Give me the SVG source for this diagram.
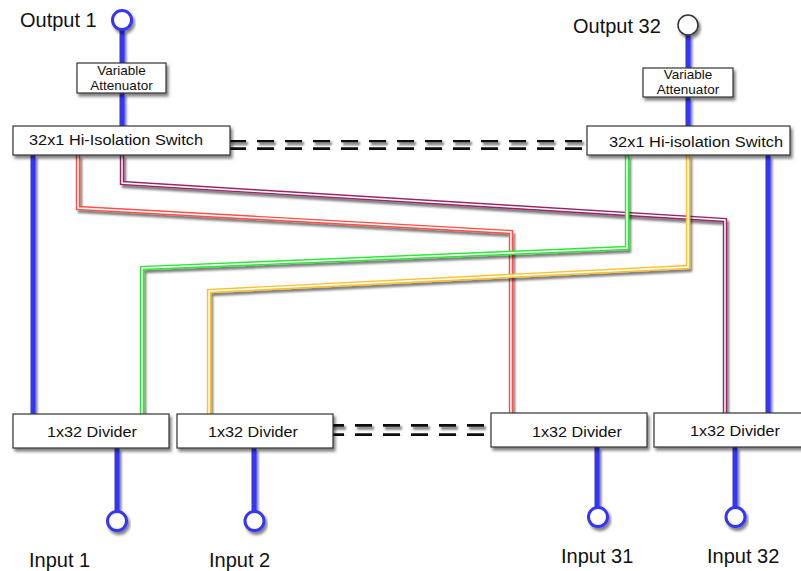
<svg xmlns="http://www.w3.org/2000/svg" width="801" height="571" viewBox="0 0 801 571">
<defs>
<filter id="sh" x="-20%" y="-20%" width="140%" height="160%">
<feDropShadow dx="2" dy="3" stdDeviation="1.5" flood-color="#000" flood-opacity="0.5"/>
</filter>
<filter id="shl" x="-5%" y="-5%" width="110%" height="110%">
<feDropShadow dx="2" dy="3" stdDeviation="1.2" flood-color="#000" flood-opacity="0.5"/>
</filter>
</defs>
<style>
text{font-family:"Liberation Sans",Arial,Helvetica,sans-serif;fill:#111}
.big{font-size:20px}
.sw{font-size:15.5px}
.att{font-size:13.5px;text-anchor:middle}
.div{font-size:15.5px;text-anchor:middle}
.box{fill:#fff;stroke:#333;stroke-width:1.2}
.blue{stroke:#3535f5;stroke-width:5;fill:none}
.port{fill:#fff;stroke:#3535f5;stroke-width:3}
.portk{fill:#fff;stroke:#333;stroke-width:1.5}
.wo{fill:none;stroke-width:4.4;stroke-linejoin:miter}
.wi{fill:none;stroke:#fff;stroke-width:1.5;stroke-linejoin:miter}
.dash{stroke:#111;stroke-width:3.5;stroke-dasharray:17 11;fill:none}
</style>

<g id="connectors">
<g filter="url(#shl)">
<path class="blue" d="M122 30V63M122 93V126"/>
<path class="blue" d="M688 35V68M688 97V126"/>
<path class="blue" d="M33 155V414"/>
<path class="blue" d="M768 155V413"/>
<path class="blue" d="M117 448V511"/>
<path class="blue" d="M254 448V511"/>
<path class="blue" d="M597 447V507"/>
<path class="blue" d="M735 447V507"/>
</g>
<g id="wire-red" filter="url(#shl)">
<path class="wo" stroke="#ff5048" d="M78 155V208L511 232V413"/>
<path class="wi" d="M78 155V208L511 232V413"/>
</g>
<g id="wire-purple" filter="url(#shl)">
<path class="wo" stroke="#982866" d="M122 155V183L725 220V413"/>
<path class="wi" d="M122 155V183L725 220V413"/>
</g>
<g id="wire-green" filter="url(#shl)">
<path class="wo" stroke="#2ee836" d="M627 155V248L142 268V414"/>
<path class="wi" d="M627 155V248L142 268V414"/>
</g>
<g id="wire-orange" filter="url(#shl)">
<path class="wo" stroke="#ffc02c" d="M688 155V267L209 291V414"/>
<path class="wi" d="M688 155V267L209 291V414"/>
</g>
<g id="ellipsis-top" filter="url(#shl)">
<path class="dash" d="M229 140.5H584M229 149H584"/>
</g>
<g id="ellipsis-bottom" filter="url(#shl)">
<path class="dash" d="M327 425H490M327 435H490"/>
</g>
</g>

<g id="output1">
<circle class="port" cx="122" cy="20" r="9.5" filter="url(#sh)"/>
<text class="big" x="20" y="27">Output 1</text>
</g>
<g id="output32">
<circle class="portk" cx="688" cy="25" r="10" filter="url(#sh)"/>
<text class="big" x="573" y="33">Output 32</text>
</g>

<g id="attenuator1">
<rect class="box" x="77" y="63" width="89" height="30" filter="url(#sh)"/>
<text class="att" x="121.5" y="74.5">Variable</text>
<text class="att" x="121.5" y="90">Attenuator</text>
</g>
<g id="attenuator32">
<rect class="box" x="643" y="68" width="90" height="29" filter="url(#sh)"/>
<text class="att" x="688" y="79">Variable</text>
<text class="att" x="688" y="94">Attenuator</text>
</g>

<g id="switch1">
<rect class="box" x="13" y="126" width="217" height="29" filter="url(#sh)"/>
<text class="sw" x="29" y="144.5" textLength="174" lengthAdjust="spacingAndGlyphs">32x1 Hi-Isolation Switch</text>
</g>
<g id="switch32">
<rect class="box" x="587" y="126" width="203" height="29" filter="url(#sh)"/>
<text class="sw" x="609" y="147" textLength="174" lengthAdjust="spacingAndGlyphs">32x1 Hi-isolation Switch</text>
</g>

<g id="divider1">
<rect class="box" x="13" y="414" width="156" height="34" filter="url(#sh)"/>
<text class="div" x="92" y="437" textLength="90" lengthAdjust="spacingAndGlyphs">1x32 Divider</text>
</g>
<g id="divider2">
<rect class="box" x="177" y="414" width="156" height="34" filter="url(#sh)"/>
<text class="div" x="253" y="437" textLength="90" lengthAdjust="spacingAndGlyphs">1x32 Divider</text>
</g>
<g id="divider31">
<rect class="box" x="491" y="413" width="156" height="34" filter="url(#sh)"/>
<text class="div" x="577" y="437" textLength="90" lengthAdjust="spacingAndGlyphs">1x32 Divider</text>
</g>
<g id="divider32">
<rect class="box" x="654" y="413" width="160" height="34" filter="url(#sh)"/>
<text class="div" x="735" y="436" textLength="90" lengthAdjust="spacingAndGlyphs">1x32 Divider</text>
</g>

<g id="input1">
<circle class="port" cx="117" cy="521" r="9.5" filter="url(#sh)"/>
<text class="big" x="29" y="567">Input 1</text>
</g>
<g id="input2">
<circle class="port" cx="254.5" cy="521" r="9.5" filter="url(#sh)"/>
<text class="big" x="209" y="567">Input 2</text>
</g>
<g id="input31">
<circle class="port" cx="598" cy="517" r="9.5" filter="url(#sh)"/>
<text class="big" x="561" y="563">Input 31</text>
</g>
<g id="input32">
<circle class="port" cx="735.5" cy="517" r="9.5" filter="url(#sh)"/>
<text class="big" x="707" y="563">Input 32</text>
</g>
</svg>
